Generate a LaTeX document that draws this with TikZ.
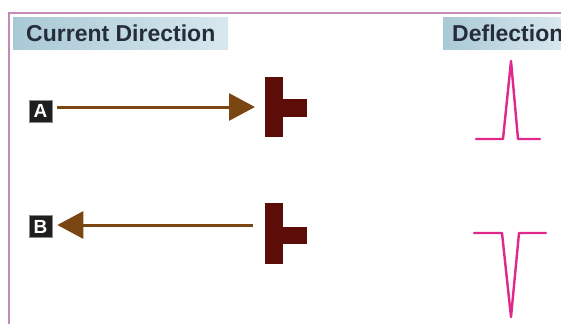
\documentclass[tikz,border=0pt]{standalone}
\usepackage{fontspec}
\setmainfont{Liberation Sans}
\usetikzlibrary{arrows.meta}
\definecolor{frameline}{HTML}{C48BB8}
\definecolor{headL}{HTML}{A9C9D6}
\definecolor{headR}{HTML}{D8E8EE}
\definecolor{headtext}{HTML}{262D3A}
\definecolor{arrowbrown}{HTML}{7A4712}
\definecolor{blockred}{HTML}{5C0D08}
\definecolor{wave}{HTML}{E0288A}
\tikzset{
  header/.style={anchor=north west, inner sep=0pt, left color=headL, right color=headR, shading angle=90},
  headtxt/.style={font=\fontsize{23}{23}\selectfont\bfseries, text=headtext, anchor=west, inner sep=0pt},
  letterbox/.style={fill=black!88, draw=black!45, line width=0.6pt, text=white,
    font=\fontsize{19}{19}\selectfont\bfseries, minimum width=23pt, minimum height=22pt, inner sep=0pt},
  bar/.style={fill=blockred, draw=none, inner sep=0pt, anchor=north west},
  current/.style={draw=arrowbrown, line width=3pt, -{Triangle[length=26pt,width=27pt]}},
  trace/.style={draw=wave, line width=2.4pt, line join=round, line cap=round}
}
\begin{document}
\begin{tikzpicture}[x=1pt,y=-1pt]
\useasboundingbox (0,0) rectangle (561,324);
\fill[white] (0,0) rectangle (561,324);

% outer frame
\draw[frameline, line width=2.2pt] (9,324) -- (9,13) -- (561,13);

% column headers
\shade[header] (13,17) rectangle (228,49);
\node[headtxt] (hcur) at (26,33) {Current Direction};
\shade[header] (443,17) rectangle (561,49);
\node[headtxt] (hdef) at (452,33) {Deflection};

% case labels
\node[letterbox] (labA) at (40.5,111) {A};
\node[letterbox] (labB) at (40.5,226.5) {B};

% electrode blocks (T shape)
\node[bar, minimum width=18pt, minimum height=60pt] (tA) at (265,77) {};
\node[bar, minimum width=24pt, minimum height=18pt] (tAs) at (283,99) {};
\node[bar, minimum width=18pt, minimum height=61pt] (tB) at (265,203) {};
\node[bar, minimum width=24pt, minimum height=17pt] (tBs) at (283,227) {};

% current arrows
\draw[current, shorten <=5pt, shorten >=10pt]
  ([yshift=4pt]labA.east) -- ([yshift=4pt]labA.east -| tA.west);
\draw[current, shorten <=12pt, shorten >=5pt]
  ([yshift=1.5pt]labB.east -| tB.west) -- ([yshift=1.5pt]labB.east);

% deflection traces
\draw[trace] (476,139) -- (503,139) -- (511,61) -- (518,139) -- (540,139);
\draw[trace] (474,233) -- (502,233) -- (511,317) -- (519,233) -- (546,233);
\end{tikzpicture}
\end{document}
